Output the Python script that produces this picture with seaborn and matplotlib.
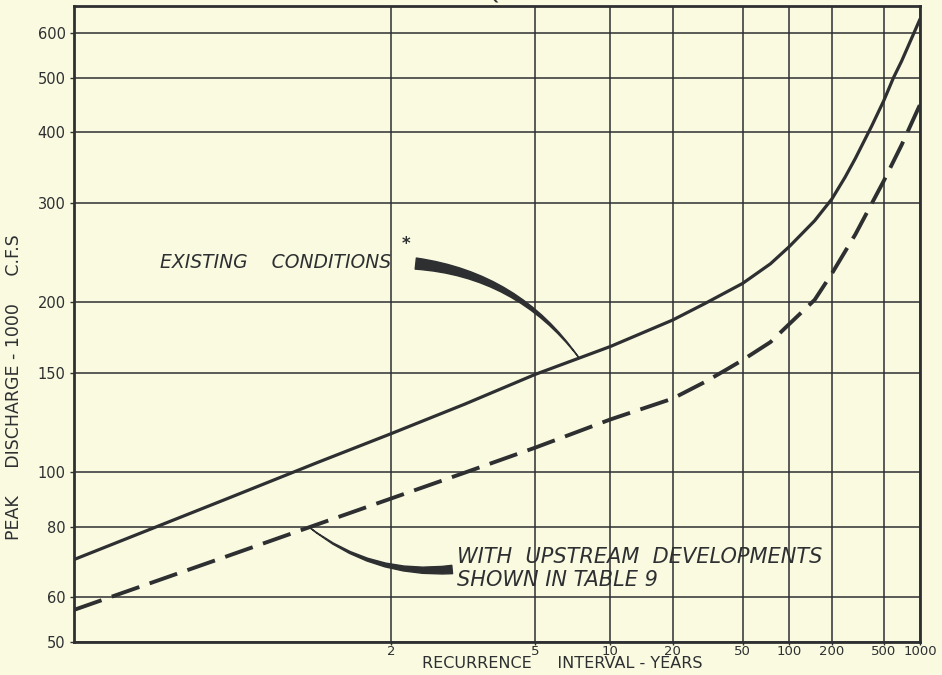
import math
from statistics import NormalDist

import numpy as np
import pandas as pd
import matplotlib
matplotlib.use("Agg")
import matplotlib.pyplot as plt
from matplotlib.ticker import NullLocator
import seaborn as sns

# values: recurrence interval (years) vs peak discharge (1000 c.f.s.)
existing_years = [1.033, 1.2, 1.5, 2, 3, 5, 10, 20, 30, 50, 75, 100, 150, 200, 250, 300,
                  400, 500, 600, 700, 1000]
existing_q = [70, 89.5, 104, 117, 132, 149, 167, 186, 199, 216, 234, 251, 279, 305, 333, 360,
              410, 455, 500, 535, 635]

upstream_years = [1.033, 1.2, 1.5, 2, 3, 5, 10, 20, 30, 40, 50, 75, 100, 150, 200, 300, 500,
                  700, 1000]
upstream_q = [57, 70.8, 80.8, 89.8, 99.8, 110.5, 124, 135, 144.5, 152, 158, 170, 183, 202, 225,
              264, 328, 380, 448]

x_ticks = [2, 5, 10, 20, 50, 100, 200, 500, 1000]
x_tick_labels = ["2", "5", "10", "20", "50", "100", "200", "500", "1000"]
y_ticks = [50, 60, 80, 100, 150, 200, 300, 400, 500, 600]
y_tick_labels = ["50", "60", "80", "100", "150", "200", "300", "400", "500", "600"]

BG = "#f9fae0"
INK = "#2e2f31"

existing = pd.DataFrame({"years": existing_years, "q": existing_q})
upstream = pd.DataFrame({"years": upstream_years, "q": upstream_q})

# normal probability scale for the recurrence interval axis
_nd = NormalDist()


def years_to_z(t):
    t = np.nan_to_num(np.asarray(t, dtype=float), nan=2.0)
    p = 1.0 - 1.0 / np.clip(t, 1.0 + 1e-6, 1e9)
    return np.vectorize(_nd.inv_cdf, otypes=[float])(p)


def z_to_years(z):
    z = np.clip(np.nan_to_num(np.asarray(z, dtype=float), nan=0.0), -8, 8)
    tail = np.vectorize(lambda v: 0.5 * math.erfc(v / math.sqrt(2)), otypes=[float])(z)
    return 1.0 / tail


sns.set_style("ticks")
plt.rcParams["font.family"] = ["DejaVu Sans"]

fig = plt.figure(figsize=(9.42, 6.75), dpi=100)
fig.patch.set_facecolor(BG)
ax = fig.add_axes([74 / 942, 33 / 675, 846 / 942, 636 / 675])
ax.set_facecolor(BG)

ax.set_xscale("function", functions=(years_to_z, z_to_years))
ax.set_yscale("log")

sns.lineplot(data=existing, x="years", y="q", ax=ax, color=INK, linewidth=2.3,
             sort=False, estimator=None)
sns.lineplot(data=upstream, x="years", y="q", ax=ax, color=INK, linewidth=2.8,
             linestyle=(0, (7.5, 2.8)), sort=False, estimator=None)

ax.set_xlim(1.033, 1000)
ax.set_ylim(50, 670)

ax.set_xticks(x_ticks)
ax.set_xticklabels(x_tick_labels)
ax.set_yticks(y_ticks)
ax.set_yticklabels(y_tick_labels)
ax.xaxis.set_minor_locator(NullLocator())
ax.yaxis.set_minor_locator(NullLocator())

ax.grid(True, which="major", color=INK, linewidth=1.1)
ax.set_axisbelow(True)
for s in ax.spines.values():
    s.set_color(INK)
    s.set_linewidth(2.0)
ax.tick_params(axis="both", width=1.0, color=INK, labelcolor=INK)
ax.tick_params(axis="y", length=3, labelsize=10.5, pad=3)
ax.tick_params(axis="x", length=2, labelsize=9.5, pad=0)

ax.set_xlabel("RECURRENCE     INTERVAL - YEARS", fontsize=11.5, color=INK)
ax.xaxis.set_label_coords(0.577, -0.0225)
ax.set_ylabel("PEAK     DISCHARGE - 1000     C.F.S", fontsize=12.5, color=INK)
ax.yaxis.set_label_coords(-0.060, 0.40)

# title, mostly cut off at the top of the sheet
fig.text(0.595, 1 + 1 / 675, "FREQUENCY   CURVES", fontsize=15, color=INK,
         ha="center", va="baseline")

# labels with tapered leaders
ax.text(0.102, 0.597, "EXISTING    CONDITIONS", transform=ax.transAxes, fontsize=13.5,
        fontstyle="italic", color=INK, ha="left", va="center")
ax.text(0.393, 0.625, "*", transform=ax.transAxes, fontsize=12, fontweight="bold",
        color=INK, ha="center", va="center")
ax.annotate("", xy=(7.3, 160), xycoords="data", xytext=(0.404, 0.595),
            textcoords="axes fraction",
            arrowprops=dict(arrowstyle="wedge,tail_width=0.4,shrink_factor=0.45",
                            connectionstyle="arc3,rad=-0.22", color=INK,
                            shrinkA=0, shrinkB=0, mutation_scale=20))

ax.text(0.453, 0.134, "WITH  UPSTREAM  DEVELOPMENTS", transform=ax.transAxes,
        fontsize=15, fontstyle="italic", color=INK, ha="left", va="center")
ax.text(0.453, 0.098, "SHOWN IN TABLE 9", transform=ax.transAxes,
        fontsize=15, fontstyle="italic", color=INK, ha="left", va="center")
ax.annotate("", xy=(1.46, 80), xycoords="data", xytext=(0.447, 0.114),
            textcoords="axes fraction",
            arrowprops=dict(arrowstyle="wedge,tail_width=0.3,shrink_factor=0.4",
                            connectionstyle="arc3,rad=-0.2", color=INK,
                            shrinkA=0, shrinkB=0, mutation_scale=20))

fig.savefig("out.png", dpi=100, facecolor=BG)
